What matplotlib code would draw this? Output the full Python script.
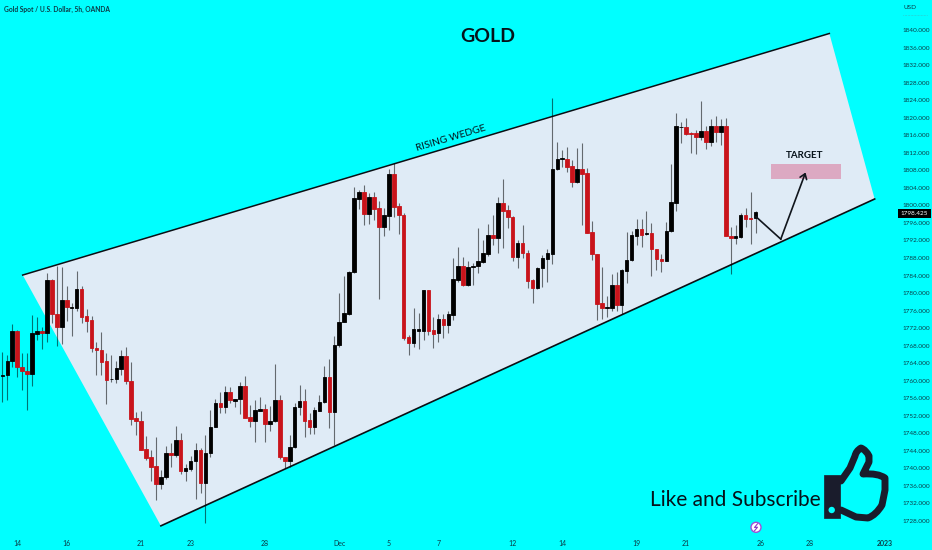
import matplotlib
matplotlib.use('Agg')
import matplotlib.pyplot as plt
from matplotlib.patches import Rectangle, Circle, PathPatch, Polygon
from matplotlib.path import Path

plt.rcParams['font.family'] = ['Lato', 'DejaVu Sans']

opens = [1761.0, 1761.2, 1764.6, 1771.4, 1763.1, 1762.2, 1761.6, 1770.7, 1771.4, 1770.8,
         1783.0, 1775.2, 1772.3, 1778.3, 1776.7, 1776.7, 1780.9, 1774.8, 1773.8, 1767.5,
         1767.0, 1764.4, 1760.3, 1760.4, 1762.7, 1765.6, 1760.0, 1751.4, 1750.8, 1744.4,
         1742.5, 1740.5, 1736.5, 1738.1, 1743.4, 1743.1, 1746.4, 1739.5, 1739.9, 1741.7,
         1744.2, 1736.7, 1743.4, 1749.5, 1755.0, 1753.9, 1757.5, 1755.4, 1755.8, 1758.8,
         1751.7, 1750.8, 1753.2, 1753.6, 1750.2, 1750.8, 1755.5, 1742.7, 1741.6, 1744.8,
         1754.0, 1755.3, 1751.0, 1749.5, 1753.2, 1755.1, 1760.8, 1752.8, 1768.2, 1773.3,
         1775.2, 1784.7, 1801.5, 1803.1, 1798.0, 1801.8, 1799.3, 1795.0, 1797.6, 1807.1,
         1799.9, 1797.9, 1769.9, 1768.7, 1771.4, 1771.4, 1780.6, 1771.6, 1770.8, 1774.1,
         1772.7, 1775.0, 1783.0, 1786.2, 1781.9, 1785.9, 1786.2, 1787.0, 1788.9, 1793.3,
         1792.6, 1800.6, 1798.9, 1797.4, 1788.2, 1791.3, 1789.2, 1783.0, 1781.2, 1785.7,
         1787.8, 1788.9, 1808.3, 1810.6, 1810.6, 1808.9, 1805.3, 1808.4, 1807.4, 1793.9,
         1789.0, 1777.7, 1776.7, 1776.7, 1781.8, 1777.3, 1785.0, 1787.5, 1793.1, 1794.5,
         1793.4, 1793.6, 1790.0, 1787.7, 1787.3, 1794.1, 1800.6, 1817.8, 1817.8, 1816.5,
         1816.4, 1815.7, 1816.9, 1814.5, 1818.2, 1816.8, 1818.1, 1793.0, 1792.6, 1792.8,
         1797.7, 1797.2, 1797.1]
highs = [1766.5, 1765.9, 1772.9, 1771.6, 1766.3, 1766.3, 1775.1, 1774.5, 1772.2, 1784.5,
         1783.2, 1786.2, 1785.9, 1781.5, 1777.7, 1785.0, 1781.5, 1776.3, 1774.8, 1768.9,
         1771.0, 1766.3, 1765.9, 1764.6, 1767.0, 1767.6, 1764.2, 1752.8, 1753.0, 1747.4,
         1744.2, 1747.1, 1739.7, 1745.0, 1745.7, 1749.7, 1748.0, 1741.0, 1742.9, 1745.7,
         1744.7, 1747.6, 1753.3, 1755.9, 1757.5, 1758.8, 1758.5, 1755.9, 1759.6, 1761.1,
         1754.4, 1755.6, 1756.4, 1754.7, 1754.3, 1763.7, 1756.7, 1742.7, 1747.6, 1755.0,
         1759.0, 1758.2, 1752.6, 1754.1, 1756.8, 1763.4, 1764.9, 1770.1, 1779.9, 1783.8,
         1785.1, 1804.1, 1803.5, 1804.7, 1802.8, 1803.1, 1800.9, 1799.3, 1808.2, 1809.6,
         1800.5, 1798.2, 1770.5, 1776.5, 1775.4, 1780.7, 1780.7, 1774.6, 1775.2, 1775.2,
         1775.9, 1787.9, 1790.6, 1788.3, 1787.2, 1786.9, 1794.9, 1792.1, 1795.7, 1797.7,
         1801.8, 1806.1, 1800.1, 1797.6, 1792.1, 1795.5, 1789.8, 1783.1, 1786.0, 1788.7,
         1790.0, 1824.4, 1814.5, 1812.6, 1813.2, 1810.3, 1813.0, 1814.3, 1808.6, 1796.4,
         1789.0, 1786.0, 1779.3, 1784.3, 1784.9, 1785.4, 1793.9, 1794.2, 1796.8, 1797.0,
         1798.8, 1795.9, 1790.1, 1788.9, 1796.1, 1809.4, 1821.0, 1818.9, 1819.9, 1816.8,
         1817.3, 1823.8, 1818.1, 1819.6, 1820.4, 1819.6, 1819.9, 1795.1, 1795.5, 1798.2,
         1799.5, 1803.1, 1798.8]
lows = [1755.1, 1755.6, 1763.2, 1760.9, 1757.9, 1753.3, 1758.8, 1769.3, 1767.2, 1768.9,
        1773.1, 1767.9, 1768.4, 1773.7, 1770.3, 1776.0, 1773.1, 1771.0, 1766.6, 1761.4,
        1761.3, 1754.6, 1759.6, 1759.4, 1761.2, 1759.2, 1749.9, 1747.6, 1744.1, 1742.0,
        1737.1, 1732.7, 1735.3, 1737.6, 1740.4, 1742.5, 1738.7, 1737.2, 1739.3, 1733.1,
        1734.3, 1727.6, 1742.7, 1749.4, 1752.7, 1752.6, 1755.0, 1754.0, 1752.4, 1751.5,
        1749.4, 1746.1, 1753.0, 1746.1, 1748.6, 1750.5, 1742.1, 1740.0, 1740.4, 1744.7,
        1752.2, 1747.1, 1747.9, 1747.9, 1753.0, 1754.9, 1749.3, 1745.4, 1767.8, 1773.3,
        1774.9, 1784.5, 1799.1, 1795.6, 1795.8, 1796.7, 1778.7, 1792.9, 1794.4, 1797.4,
        1793.5, 1769.2, 1765.9, 1767.6, 1767.3, 1769.3, 1770.4, 1767.4, 1768.8, 1769.7,
        1770.8, 1773.9, 1782.6, 1781.5, 1781.5, 1781.9, 1784.5, 1786.8, 1788.5, 1791.0,
        1789.1, 1790.2, 1794.9, 1787.4, 1785.6, 1787.9, 1781.1, 1777.7, 1781.0, 1781.3,
        1782.6, 1786.6, 1808.1, 1808.8, 1807.5, 1804.3, 1805.2, 1795.5, 1793.6, 1787.5,
        1773.9, 1774.0, 1774.6, 1775.8, 1775.8, 1775.2, 1782.2, 1787.4, 1791.0, 1790.4,
        1793.2, 1783.9, 1785.3, 1784.7, 1787.2, 1794.0, 1798.6, 1814.3, 1816.1, 1812.0,
        1811.7, 1814.8, 1812.8, 1813.5, 1814.5, 1813.8, 1792.9, 1784.3, 1791.2, 1792.5,
        1795.1, 1791.2, 1793.6]
closes = [1761.2, 1764.6, 1771.4, 1763.1, 1762.2, 1761.6, 1770.8, 1771.4, 1770.8, 1783.0,
          1775.2, 1772.3, 1778.3, 1776.8, 1776.9, 1780.9, 1774.6, 1773.6, 1767.4, 1766.9,
          1764.2, 1760.2, 1760.5, 1762.8, 1765.6, 1759.9, 1751.3, 1750.8, 1744.2, 1742.4,
          1740.3, 1736.5, 1738.1, 1743.4, 1743.1, 1746.4, 1739.5, 1740.0, 1741.7, 1744.2,
          1736.7, 1743.4, 1749.5, 1755.0, 1753.9, 1757.4, 1755.5, 1755.8, 1758.8, 1751.6,
          1750.7, 1753.3, 1753.6, 1750.2, 1750.9, 1755.5, 1742.6, 1741.6, 1744.9, 1754.1,
          1755.3, 1750.8, 1749.5, 1753.4, 1755.2, 1760.8, 1752.8, 1768.2, 1773.5, 1775.4,
          1784.8, 1801.7, 1803.1, 1798.0, 1801.8, 1799.2, 1795.1, 1797.7, 1807.1, 1799.7,
          1797.7, 1769.8, 1768.7, 1771.8, 1771.8, 1780.6, 1771.4, 1770.7, 1774.1, 1772.7,
          1775.2, 1783.1, 1786.2, 1781.9, 1786.0, 1786.2, 1787.2, 1789.1, 1793.3, 1792.6,
          1800.6, 1798.8, 1797.3, 1788.3, 1791.3, 1789.2, 1782.8, 1781.2, 1785.8, 1787.9,
          1789.1, 1808.4, 1810.6, 1810.7, 1808.8, 1805.3, 1808.4, 1807.2, 1793.8, 1788.9,
          1777.6, 1776.7, 1776.9, 1781.8, 1777.3, 1785.2, 1787.5, 1793.2, 1794.5, 1793.3,
          1793.6, 1790.0, 1787.7, 1787.4, 1794.2, 1800.8, 1818.0, 1817.9, 1816.3, 1816.3,
          1815.7, 1816.9, 1814.5, 1818.2, 1816.8, 1818.1, 1793.0, 1792.6, 1793.0, 1797.7,
          1797.0, 1797.0, 1798.4]

price_ticks = list(range(1728, 1844, 4))
date_pos = [3, 13, 28, 38, 53, 68, 78, 88, 103, 113, 128, 138, 153, 163, 178]
date_labels = ['14', '16', '21', '23', '28', 'Dec', '5', '7', '12', '14', '19', '21', '26', '28', '2023']

wedge_x = [4.11, 166.9, 176.05, 32.0]
wedge_y = [1784.1, 1839.2, 1801.45, 1726.9]
path_x = [152.1, 157.1, 162.1]
path_y = [1797.4, 1792.3, 1807.5]
last_price = 1798.425

BG = '#00FFFF'
INK = '#0B3B46'
W, H = 932, 550

fig = plt.figure(figsize=(W / 100, H / 100), dpi=100, facecolor=BG)
ax = fig.add_axes([0, 20 / H, 899 / W, 530 / H], facecolor=BG)
ax.set_xlim(-0.47, 180.96)
ax.set_ylim(1725.95, 1846.84)
for s in ax.spines.values():
    s.set_visible(False)

# wedge
ax.add_patch(Polygon(list(zip(wedge_x, wedge_y)), closed=True, fc='#DFEBF6', ec='none', zorder=1))
ax.plot(wedge_x[:2], wedge_y[:2], color='#0A0F14', lw=1.1, zorder=2)
ax.plot([wedge_x[3], wedge_x[2]], [wedge_y[3], wedge_y[2]], color='#0A0F14', lw=1.2, zorder=2)

# candles
idx = list(range(len(opens)))
colors = ['#000000' if c >= o else '#C9141B' for o, c in zip(opens, closes)]
ax.vlines(idx, lows, highs, color='#000000', alpha=0.55, lw=0.8, zorder=3)
ax.bar(idx, [abs(c - o) for o, c in zip(opens, closes)], bottom=[min(o, c) for o, c in zip(opens, closes)],
       width=0.72, color=colors, edgecolor=colors, lw=0.6, zorder=4)

# target box and projected path
ax.add_patch(Rectangle((155.1, 1805.9), 14.1, 3.5, fc='#DCA9C2', ec='none', zorder=2))
ax.plot(path_x[:2], path_y[:2], color='#10151C', lw=1.2, zorder=5)
ax.annotate('', xy=(path_x[2], path_y[2]), xytext=(path_x[1], path_y[1]), zorder=5,
            arrowprops=dict(arrowstyle='->,head_length=0.35,head_width=0.25', color='#10151C', lw=1.2,
                            shrinkA=0, shrinkB=0))

ax.yaxis.tick_right()
ax.set_yticks(price_ticks)
ax.set_yticklabels(['%.3f' % p for p in price_ticks])
ax.set_xticks(date_pos)
ax.set_xticklabels(date_labels)
ax.tick_params(axis='y', length=0, pad=2.5, labelsize=4.6, labelcolor=INK)
ax.tick_params(axis='x', length=0, pad=7, labelsize=5, labelcolor=INK)
ax.get_xticklabels()[-1].set_fontweight('bold')

# overlay in pixels for the drawn-on labels
ov = fig.add_axes([0, 0, 1, 1], facecolor='none')
ov.set_xlim(0, W)
ov.set_ylim(H, 0)
ov.axis('off')

ov.text(4, 9, 'Gold Spot / U.S. Dollar, 5h, OANDA', fontsize=4.8, fontweight='bold', color=INK, va='center')
ov.text(903, 7.5, 'USD', fontsize=4.6, color=INK, va='center')
ov.plot([903, 927], [14.5, 14.5], color='#5A9AA0', lw=0.4, ls=':')
ov.text(488, 36, 'GOLD', fontsize=14, fontweight='bold', color='#06121A', ha='center', va='center')
ov.text(450.5, 138.5, 'RISING WEDGE', fontsize=7.3, color='#06121A', ha='center', va='center',
        rotation=16.6, rotation_mode='anchor')
ov.text(805, 156, 'TARGET', fontsize=7, fontweight='bold', color='#06121A', ha='center', va='center')
ov.text(650.5, 500.5, 'Like and Subscribe', fontsize=15, color='#06121A', ha='left', va='center')

ov.add_patch(Rectangle((898, 208.7), 32.5, 8.8, fc='#000000', ec='none'))
ov.text(914, 213.2, '%.3f' % last_price, fontsize=4.6, color='white', ha='center', va='center')

# alert icon
ov.add_patch(Circle((756, 527.3), 5, fc='white', ec='#A050D8', lw=1))
ov.plot([757.5, 754.5, 757.5, 754.5], [523.8, 527.5, 527.2, 530.8], color='#8A3CC8', lw=0.8)

# thumb
ICON = '#1A1C2C'
ov.add_patch(Rectangle((824, 475), 16, 43, fc=ICON, ec=ICON, lw=0.5, joinstyle='round'))
ov.add_patch(Circle((831.7, 510), 3.2, fc=BG, ec='none'))
thumb = Path([(841, 481), (850, 468), (855, 456), (856, 451), (861, 448), (866, 450), (869, 456), (869, 462),
              (863, 474), (878, 473), (885, 478), (885, 490), (882, 505), (876, 515), (868, 518), (856, 517), (841, 510)],
             [Path.MOVETO, Path.LINETO, Path.LINETO, Path.CURVE3, Path.CURVE3, Path.CURVE3, Path.CURVE3, Path.LINETO,
              Path.LINETO, Path.CURVE3, Path.CURVE3, Path.LINETO, Path.LINETO, Path.CURVE3, Path.CURVE3, Path.LINETO, Path.LINETO])
ov.add_patch(PathPatch(thumb, fc='none', ec=ICON, lw=5, capstyle='round', joinstyle='round'))

fig.savefig('out.png', dpi=100, facecolor=BG)
